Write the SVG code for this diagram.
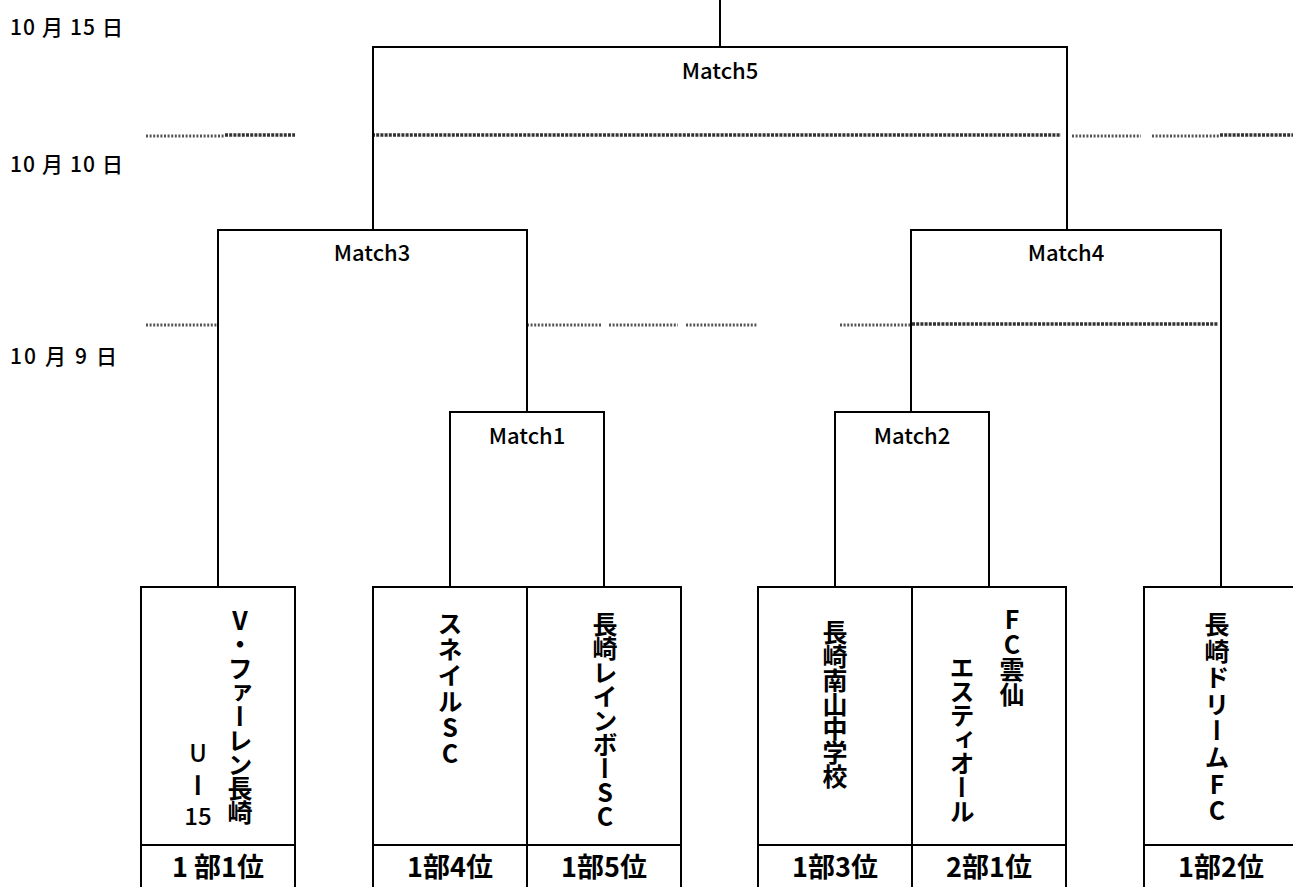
<svg xmlns="http://www.w3.org/2000/svg" width="1293" height="887" viewBox="0 0 1293 887">
<style>
.ln{fill:none;stroke:#000;stroke-width:2}
.hatch{stroke:#555;stroke-width:3;stroke-dasharray:2 1.6;fill:none}
.hatchd{stroke:#333;stroke-width:3.5;stroke-dasharray:3 1.2;fill:none}
.date{font-family:"Noto Sans CJK JP","Liberation Sans",sans-serif;font-size:21px;font-weight:500;fill:#000}
.m{font-family:"Noto Sans CJK JP","Liberation Sans",sans-serif;font-size:22px;font-weight:500;fill:#000;text-anchor:middle}
.v{font-family:"Noto Sans CJK JP","Liberation Sans",sans-serif;font-size:25px;font-weight:700;fill:#000;writing-mode:vertical-rl;text-orientation:upright;letter-spacing:-1px}
.h{font-family:"Noto Sans CJK JP","Liberation Sans",sans-serif;font-size:24px;font-weight:500;fill:#000;text-anchor:middle}
.r{font-family:"Noto Sans CJK JP","Liberation Sans",sans-serif;font-size:27px;font-weight:700;fill:#000;text-anchor:middle}
</style>
<rect width="1293" height="887" fill="#fff"/>
<g id="dates">
<text class="date" x="10" y="35" textLength="113" lengthAdjust="spacing">10 月 15 日</text>
<text class="date" x="10" y="172" textLength="113" lengthAdjust="spacing">10 月 10 日</text>
<text class="date" x="10" y="364" textLength="107" lengthAdjust="spacing">10 月 9 日</text>
</g>
<g id="dividers">
<path class="hatch" d="M146 136H225"/>
<path class="hatchd" d="M225 135H295"/>
<path class="hatchd" d="M372 135H1061"/>
<path class="hatch" d="M1072 136H1141"/>
<path class="hatch" d="M1152 136H1220"/>
<path class="hatchd" d="M1220 135H1293"/>
<path class="hatch" d="M146 325H217"/>
<path class="hatch" d="M527 325H601"/>
<path class="hatch" d="M609 325H678"/>
<path class="hatch" d="M686 325H757"/>
<path class="hatch" d="M840 325H911"/>
<path class="hatchd" d="M912 324H1218"/>
</g>
<g id="connectors">
<path class="ln" d="M720 0V47"/>
<path class="ln" d="M373 230V47H1067V230"/>
<path class="ln" d="M218 587V230H527V412"/>
<path class="ln" d="M911 412V230H1221V587"/>
<path class="ln" d="M450 587V412H604V587"/>
<path class="ln" d="M835 587V412H989V587"/>
</g>
<g id="match5"><text class="m" x="720" y="79">Match5</text></g>
<g id="match3"><text class="m" x="372" y="261">Match3</text></g>
<g id="match4"><text class="m" x="1066" y="261">Match4</text></g>
<g id="match1"><text class="m" x="527" y="444">Match1</text></g>
<g id="match2"><text class="m" x="912" y="444">Match2</text></g>
<g id="team1">
<rect class="ln" x="141" y="587" width="154" height="310"/>
<path class="ln" d="M141 845H295"/>
<text class="v" x="240" y="608">V・ファーレン長崎</text>
<text class="h" x="198" y="762">U</text>
<text class="v" x="198" y="773">ー</text>
<text class="h" x="198" y="825">15</text>
<text class="r" x="218" y="877">1 部1位</text>
</g>
<g id="team2">
<rect class="ln" x="373" y="587" width="154" height="310"/>
<path class="ln" d="M373 845H527"/>
<text class="v" x="450" y="611" style="letter-spacing:1px">スネイルSC</text>
<text class="r" x="450" y="877">1部4位</text>
</g>
<g id="team3">
<rect class="ln" x="527" y="587" width="154" height="310"/>
<path class="ln" d="M527 845H681"/>
<text class="v" x="605" y="612">長崎レインボーSC</text>
<text class="r" x="604" y="877">1部5位</text>
</g>
<g id="team4">
<rect class="ln" x="758" y="587" width="154" height="310"/>
<path class="ln" d="M758 845H912"/>
<text class="v" x="835" y="620">長崎南山中学校</text>
<text class="r" x="835" y="877">1部3位</text>
</g>
<g id="team5">
<rect class="ln" x="912" y="587" width="154" height="310"/>
<path class="ln" d="M912 845H1066"/>
<text class="v" x="1012" y="607" style="letter-spacing:0px">FC雲仙</text>
<text class="v" x="962" y="655">エスティオール</text>
<text class="r" x="989" y="877">2部1位</text>
</g>
<g id="team6">
<rect class="ln" x="1144" y="587" width="160" height="310"/>
<path class="ln" d="M1144 845H1304"/>
<text class="v" x="1217" y="612" style="letter-spacing:1.6px">長崎ドリームFC</text>
<text class="r" x="1221" y="877">1部2位</text>
</g>
</svg>
